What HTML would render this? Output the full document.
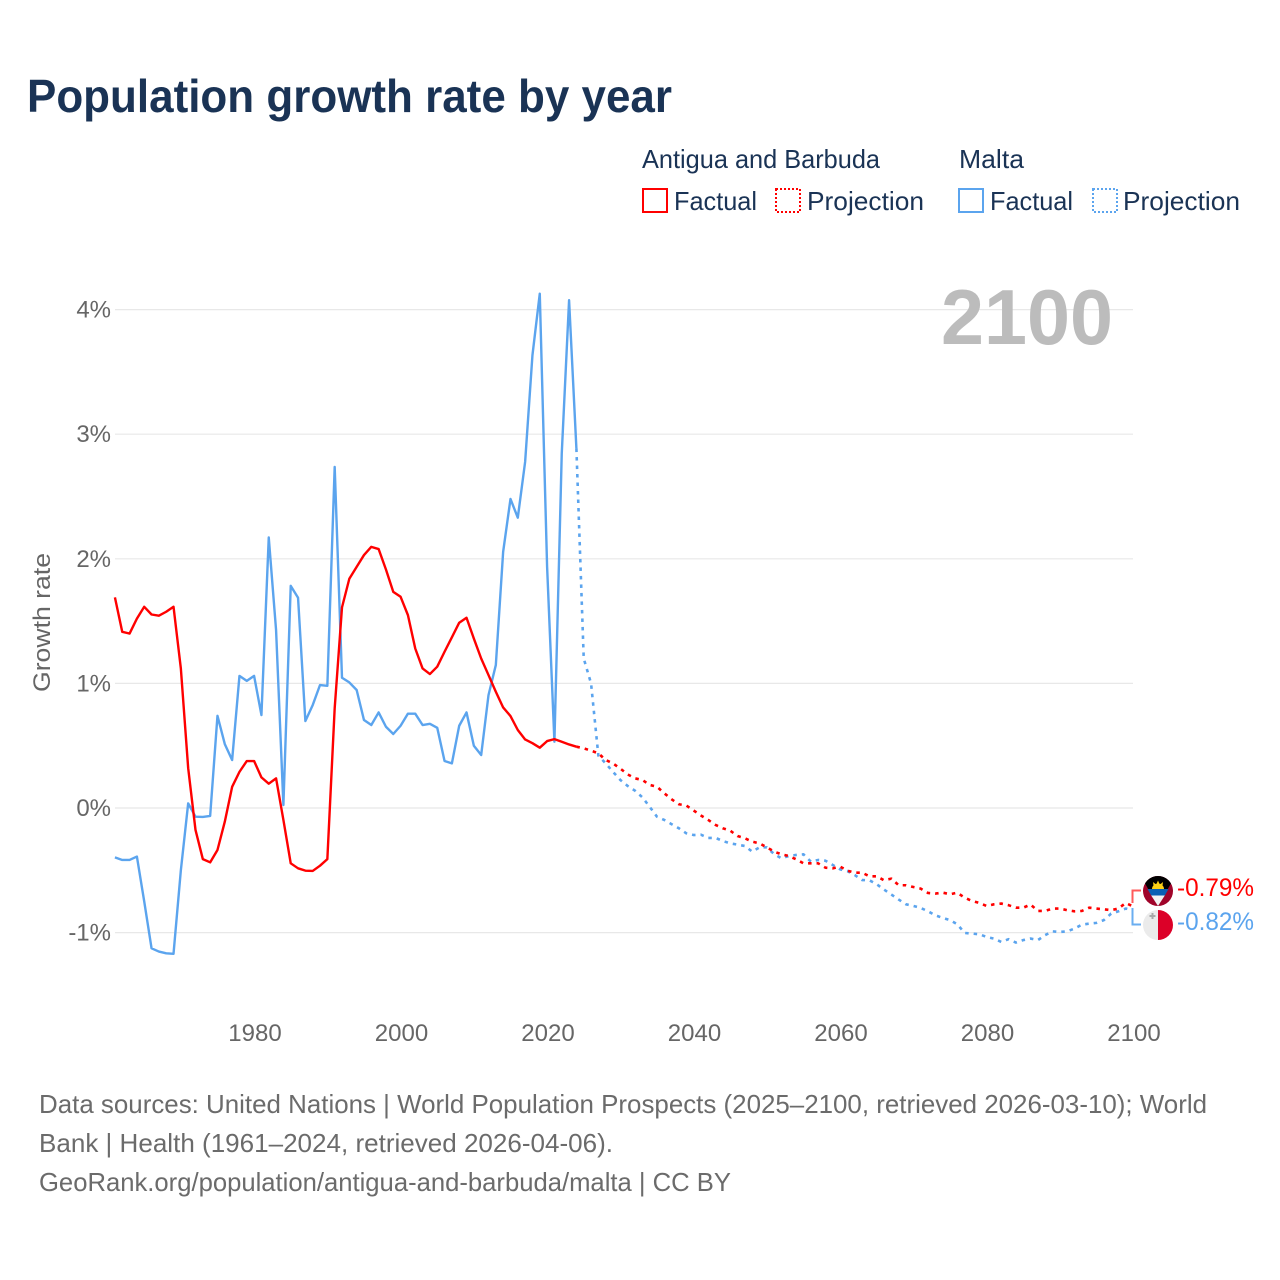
<!DOCTYPE html>
<html lang="en">
<head>
<meta charset="utf-8">
<title>Population growth rate by year</title>
<style>
html,body{margin:0;padding:0;background:#fff;}
svg{display:block;}
text{font-family:"Liberation Sans",sans-serif;}
</style>
</head>
<body>
<svg id="chart" width="1280" height="1280" viewBox="0 0 1280 1280" xmlns="http://www.w3.org/2000/svg">
  <defs>
    <clipPath id="clip-ag"><circle cx="1158" cy="891" r="15"/></clipPath>
    <clipPath id="clip-mt"><circle cx="1158" cy="925" r="15"/></clipPath>
  </defs>
  <rect width="1280" height="1280" fill="#fff"/>
  <text x="27" y="112" font-size="46" font-weight="700" fill="#1a3355" textLength="645" lengthAdjust="spacingAndGlyphs">Population growth rate by year</text>

  <g font-size="26" fill="#1a3355">
    <text x="642" y="168" textLength="238" lengthAdjust="spacingAndGlyphs">Antigua and Barbuda</text>
    <text x="959" y="168" textLength="65" lengthAdjust="spacingAndGlyphs">Malta</text>
    <rect x="643" y="189" width="24" height="23" fill="none" stroke="#ff0000" stroke-width="2"/>
    <text x="674" y="210" textLength="83" lengthAdjust="spacingAndGlyphs">Factual</text>
    <rect x="776" y="189" width="24" height="23" fill="none" stroke="#ff0000" stroke-width="2" stroke-dasharray="2 2"/>
    <text x="807" y="210" textLength="117" lengthAdjust="spacingAndGlyphs">Projection</text>
    <rect x="959" y="189" width="24" height="23" fill="none" stroke="#5ba4ee" stroke-width="2"/>
    <text x="990" y="210" textLength="83" lengthAdjust="spacingAndGlyphs">Factual</text>
    <rect x="1093" y="189" width="24" height="23" fill="none" stroke="#5ba4ee" stroke-width="2" stroke-dasharray="2 2"/>
    <text x="1123" y="210" textLength="117" lengthAdjust="spacingAndGlyphs">Projection</text>
  </g>

  <g id="grid"></g>
  <g id="y-ticks"></g>
  <g id="x-ticks"></g>
  <text transform="translate(50,692) rotate(-90)" font-size="24" fill="#666" textLength="139" lengthAdjust="spacingAndGlyphs">Growth rate</text>
  <text x="941" y="344" font-size="78" font-weight="700" fill="#bcbcbc" textLength="172" lengthAdjust="spacingAndGlyphs">2100</text>

  <g id="series"></g>

  <g>
    <path d="M1132.5 903V890.5H1141" fill="none" stroke="#ff5a5a" stroke-width="2"/>
    <path d="M1132.5 908V924.5H1141" fill="none" stroke="#6aaef0" stroke-width="2"/>
    <g clip-path="url(#clip-ag)">
      <rect x="1143" y="876" width="30" height="30" fill="#a0042a"/>
      <polygon points="1143,876 1173,876 1173,880 1158,906 1143,880" fill="#000"/>
      <polygon points="1147.5,889 1168.5,889 1164.8,895.5 1151.2,895.5" fill="#0a5fb4"/>
      <polygon points="1151.2,895.5 1164.8,895.5 1158,906" fill="#f2f2f2"/>
      <path d="M1152 889a6 5.5 0 0 1 12 0z" fill="#fcd116"/>
      <polygon points="1158,880.5 1159.5,884 1156.5,884" fill="#fcd116"/>
      <polygon points="1153,882 1156,884.5 1153.5,885.5" fill="#fcd116"/>
      <polygon points="1163,882 1160,884.5 1162.5,885.5" fill="#fcd116"/>
    </g>
    <g clip-path="url(#clip-mt)">
      <rect x="1143" y="910" width="15" height="30" fill="#ebebeb"/>
      <rect x="1158" y="910" width="15" height="30" fill="#dc0028"/>
      <path d="M1152.5 913v6M1149.5 916h6" stroke="#a8a8a8" stroke-width="2"/>
    </g>
    <text x="1177" y="896" font-size="25" fill="#ff0000" textLength="77" lengthAdjust="spacingAndGlyphs">-0.79%</text>
    <text x="1177" y="930" font-size="25" fill="#5ba4ee" textLength="77" lengthAdjust="spacingAndGlyphs">-0.82%</text>
  </g>

  <g font-size="26" fill="#6b6b6b">
    <text x="39" y="1113" textLength="1168" lengthAdjust="spacingAndGlyphs">Data sources: United Nations | World Population Prospects (2025–2100, retrieved 2026-03-10); World</text>
    <text x="39" y="1152" textLength="574" lengthAdjust="spacingAndGlyphs">Bank | Health (1961–2024, retrieved 2026-04-06).</text>
    <text x="39" y="1191" textLength="692" lengthAdjust="spacingAndGlyphs">GeoRank.org/population/antigua-and-barbuda/malta | CC BY</text>
  </g>
</svg>

<script>
const xTickYears = [1980, 2000, 2020, 2040, 2060, 2080, 2100];
const yTickValues = [-1, 0, 1, 2, 3, 4];
const factualStartYear = 1961;
const projectionStartYear = 2024;

const antiguaFactual = [1.69,1.414,1.40,1.52,1.615,1.553,1.543,1.575,1.615,1.12,0.32,-0.176,-0.41,-0.436,-0.337,-0.11,0.17,0.29,0.377,0.377,0.246,0.195,0.238,-0.096,-0.444,-0.484,-0.503,-0.505,-0.463,-0.41,0.8,1.61,1.84,1.935,2.03,2.096,2.078,1.914,1.735,1.695,1.548,1.28,1.12,1.075,1.134,1.254,1.37,1.487,1.527,1.36,1.2,1.067,0.933,0.807,0.738,0.626,0.55,0.52,0.484,0.537,0.553,0.532,0.51,0.492];

const maltaFactual = [-0.396,-0.417,-0.417,-0.39,-0.75,-1.126,-1.152,-1.166,-1.17,-0.5,0.037,-0.07,-0.072,-0.064,0.74,0.513,0.385,1.06,1.02,1.06,0.746,2.171,1.428,0.024,1.783,1.687,0.698,0.826,0.987,0.981,2.737,1.045,1.008,0.947,0.706,0.666,0.767,0.652,0.594,0.66,0.757,0.757,0.666,0.676,0.644,0.377,0.358,0.66,0.767,0.5,0.425,0.906,1.147,2.056,2.48,2.33,2.778,3.634,4.128,1.936,0.532,2.845,4.075,2.885];

const antiguaProjection = [0.492,0.479,0.46,0.439,0.385,0.358,0.316,0.27,0.238,0.225,0.185,0.171,0.118,0.07,0.03,0.02,-0.02,-0.06,-0.096,-0.136,-0.163,-0.182,-0.225,-0.243,-0.27,-0.284,-0.316,-0.35,-0.372,-0.385,-0.412,-0.444,-0.444,-0.444,-0.479,-0.484,-0.47,-0.503,-0.519,-0.519,-0.548,-0.548,-0.58,-0.567,-0.62,-0.62,-0.634,-0.647,-0.682,-0.687,-0.679,-0.692,-0.68,-0.72,-0.746,-0.762,-0.786,-0.773,-0.767,-0.78,-0.8,-0.8,-0.775,-0.826,-0.826,-0.807,-0.807,-0.82,-0.829,-0.826,-0.8,-0.807,-0.813,-0.82,-0.807,-0.762,-0.79];

const maltaProjection = [2.885,1.2,1.0,0.42,0.358,0.29,0.225,0.177,0.139,0.086,0.01,-0.07,-0.096,-0.13,-0.163,-0.203,-0.217,-0.214,-0.24,-0.24,-0.265,-0.284,-0.294,-0.305,-0.35,-0.316,-0.316,-0.37,-0.404,-0.385,-0.377,-0.372,-0.43,-0.417,-0.423,-0.457,-0.492,-0.506,-0.538,-0.578,-0.58,-0.612,-0.655,-0.695,-0.735,-0.773,-0.786,-0.802,-0.829,-0.861,-0.882,-0.9,-0.933,-1.003,-1.008,-1.013,-1.035,-1.048,-1.075,-1.053,-1.08,-1.06,-1.048,-1.06,-1.02,-0.99,-0.995,-0.99,-0.968,-0.936,-0.928,-0.922,-0.9,-0.848,-0.829,-0.807,-0.82];

const SVG_NS = 'http://www.w3.org/2000/svg';
function xScale(year) { return 254.1 + (year - 1980) * 7.325; }
function yScale(value) { return 808 - value * 124.6; }

function linePath(values, startYear) {
  return values.map(function (v, i) {
    return (i ? 'L' : 'M') + xScale(startYear + i).toFixed(2) + ' ' + yScale(v).toFixed(2);
  }).join('');
}

const gridGroup = document.getElementById('grid');
const yTickGroup = document.getElementById('y-ticks');
const xTickGroup = document.getElementById('x-ticks');
const seriesGroup = document.getElementById('series');

yTickValues.forEach(function (v) {
  const line = document.createElementNS(SVG_NS, 'line');
  
  
  line.setAttribute('x1', 115);
  line.setAttribute('x2', 1133);
  line.setAttribute('y1', yScale(v));
  line.setAttribute('y2', yScale(v));
  line.setAttribute('stroke', '#e8e8e8');
  line.setAttribute('stroke-width', '1.2');
  gridGroup.appendChild(line);

  const label = document.createElementNS(SVG_NS, 'text');
  
  
  label.setAttribute('x', 111);
  label.setAttribute('y', yScale(v) + 8);
  label.setAttribute('text-anchor', 'end');
  label.setAttribute('font-size', '24');
  label.setAttribute('fill', '#666');
  label.textContent = v + '%';
  yTickGroup.appendChild(label);
});

xTickYears.forEach(function (year) {
  const label = document.createElementNS(SVG_NS, 'text');
  
  
  label.setAttribute('x', xScale(year) + 0.9);
  label.setAttribute('y', 1041);
  label.setAttribute('text-anchor', 'middle');
  label.setAttribute('font-size', '24');
  label.setAttribute('fill', '#666');
  label.textContent = year;
  xTickGroup.appendChild(label);
});

function addLine(name, values, startYear, color, dashed) {
  const path = document.createElementNS(SVG_NS, 'path');
  
  
  path.setAttribute('d', linePath(values, startYear));
  path.setAttribute('fill', 'none');
  path.setAttribute('stroke', color);
  path.setAttribute('stroke-width', dashed ? '2.6' : '2.4');
  path.setAttribute('stroke-linejoin', 'round');
  if (dashed) {
    path.setAttribute('stroke-dasharray', '3.5 5');
  }
  seriesGroup.appendChild(path);
}

addLine('line-malta-factual', maltaFactual, factualStartYear, '#5ba4ee', false);
addLine('line-malta-projection', maltaProjection, projectionStartYear, '#5ba4ee', true);
addLine('line-antigua-factual', antiguaFactual, factualStartYear, '#ff0000', false);
addLine('line-antigua-projection', antiguaProjection, projectionStartYear, '#ff0000', true);
</script>
</body>
</html>
